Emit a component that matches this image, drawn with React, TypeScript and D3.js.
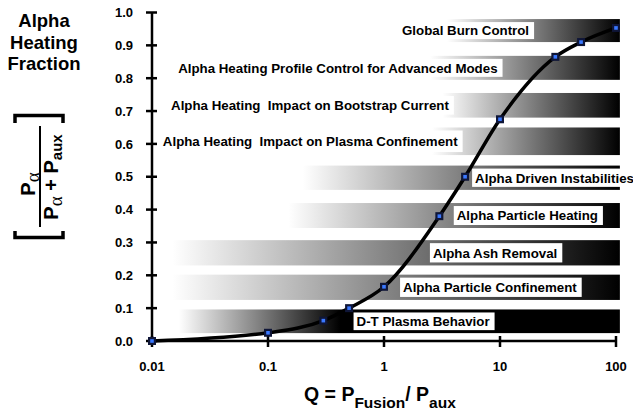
import React, { useEffect, useRef } from 'react';
import * as d3 from 'd3';

// Q = Pfusion / Paux and the alpha heating fraction at each point
const qValues = [0.01, 0.1, 0.3, 0.5, 1, 3, 5, 10, 30, 50, 100];
const fractionValues = [0, 0.025, 0.062, 0.1, 0.165, 0.38, 0.5, 0.675, 0.865, 0.91, 0.953];

// physics regimes, drawn as shaded bands
const bandLabels = [
  'Global Burn Control',
  'Alpha Heating Profile Control for Advanced Modes',
  'Alpha Heating  Impact on Bootstrap Current',
  'Alpha Heating  Impact on Plasma Confinement',
  'Alpha Driven Instabilities',
  'Alpha Particle Heating',
  'Alpha Ash Removal',
  'Alpha Particle Confinement',
  'D-T Plasma Behavior',
];
const bandLow = [0.91, 0.795, 0.68, 0.566, 0.46, 0.344, 0.23, 0.125, 0.024];
const bandHigh = [0.98, 0.868, 0.755, 0.65, 0.534, 0.42, 0.307, 0.202, 0.096];
const bandStartQ = [3.5, 2.5, 3.2, 2.6, 0.2, 0.15, 0.015, 0.015, 0.017];
const bandBlackQ = [108, 108, 108, 108, 108, 108, 108, 108, 0.42];
const bandEndQ = [108, 108, 108, 108, 108, 108, 108, 108, 108];
const labelQ = [1.43, 0.0168, 0.0146, 0.0124, 6.1, 4.24, 2.64, 1.46, 0.58];

const xTicks = [0.01, 0.1, 1, 10, 100];
const xTickLabels = ['0.01', '0.1', '1', '10', '100'];
const yTicks = [0, 0.1, 0.2, 0.3, 0.4, 0.5, 0.6, 0.7, 0.8, 0.9, 1.0];
const yTickLabels = ['0.0', '0.1', '0.2', '0.3', '0.4', '0.5', '0.6', '0.7', '0.8', '0.9', '1.0'];

const FONT = '"Liberation Sans", Arial, sans-serif';

const App = () => {
  const svgRef = useRef<SVGSVGElement>(null);

  useEffect(() => {
    document.body.style.margin = '0';
    const width = 633;
    const height = 414;

    const svg = d3.select(svgRef.current)
      .attr('width', width)
      .attr('height', height)
      .style('display', 'block')
      .style('background', '#fff');
    svg.selectAll('*').remove();

    const x = d3.scaleLog().domain([0.01, 100]).range([152, 616]);
    const y = d3.scaleLinear().domain([0, 1]).range([341, 12.5]);

    const defs = svg.append('defs');

    // bands
    bandLabels.forEach((label, i) => {
      const id = `band-grad-${i}`;
      const g = defs.append('linearGradient')
        .attr('id', id)
        .attr('gradientUnits', 'userSpaceOnUse')
        .attr('x1', x(bandStartQ[i]))
        .attr('x2', x(bandBlackQ[i]))
        .attr('y1', 0)
        .attr('y2', 0);
      g.append('stop').attr('offset', 0).attr('stop-color', '#fff');
      g.append('stop').attr('offset', 1).attr('stop-color', '#000');

      svg.append('rect')
        .attr('x', x(bandStartQ[i]))
        .attr('y', y(bandHigh[i]))
        .attr('width', x(bandEndQ[i]) - x(bandStartQ[i]))
        .attr('height', y(bandLow[i]) - y(bandHigh[i]))
        .attr('fill', `url(#${id})`);
    });

    // band labels on white boxes
    bandLabels.forEach((label, i) => {
      const top = y(bandHigh[i]);
      const bottom = y(bandLow[i]);
      const box = svg.append('rect').attr('fill', '#fff');
      const text = svg.append('text')
        .attr('x', x(labelQ[i]))
        .attr('y', (top + bottom) / 2)
        .attr('dy', '0.36em')
        .style('white-space', 'pre')
        .style('font-family', FONT)
        .style('font-weight', 'bold')
        .style('font-size', '13.3px')
        .attr('fill', '#000')
        .text(label);
      const len = (text.node() as SVGTextElement).getComputedTextLength();
      box.attr('x', x(labelQ[i]) - 3)
        .attr('y', top + 3)
        .attr('width', len + 8)
        .attr('height', bottom - top - 6);
    });

    // axes
    const axis = svg.append('g').attr('stroke', '#000').attr('stroke-width', 2.5);
    axis.append('line').attr('x1', x(0.01)).attr('x2', x(100)).attr('y1', y(0)).attr('y2', y(0));
    axis.append('line').attr('x1', x(0.01)).attr('x2', x(0.01)).attr('y1', y(0)).attr('y2', y(1));
    yTicks.forEach(t => {
      axis.append('line').attr('x1', x(0.01) - 6).attr('x2', x(0.01) + 5).attr('y1', y(t)).attr('y2', y(t));
    });
    xTicks.forEach(t => {
      axis.append('line').attr('x1', x(t)).attr('x2', x(t)).attr('y1', y(0) - 5).attr('y2', y(0) + 6);
    });

    svg.append('g').selectAll('text')
      .data(yTicks)
      .enter()
      .append('text')
      .attr('x', 133)
      .attr('y', d => y(d))
      .attr('dy', '0.36em')
      .attr('text-anchor', 'end')
      .style('font-family', FONT)
      .style('font-weight', 'bold')
      .style('font-size', '13px')
      .text((d, i) => yTickLabels[i]);

    svg.append('g').selectAll('text')
      .data(xTicks)
      .enter()
      .append('text')
      .attr('x', d => x(d))
      .attr('y', 371)
      .attr('text-anchor', 'middle')
      .style('font-family', FONT)
      .style('font-weight', 'bold')
      .style('font-size', '13px')
      .text((d, i) => xTickLabels[i]);

    // curve
    const points = qValues.map((q, i) => [q, fractionValues[i]] as [number, number]);
    const line = d3.line<[number, number]>()
      .x(d => x(d[0]))
      .y(d => y(d[1]))
      .curve(d3.curveMonotoneX);
    svg.append('path')
      .attr('d', line(points))
      .attr('fill', 'none')
      .attr('stroke', '#000')
      .attr('stroke-width', 3.5);

    const markers = svg.append('g').selectAll('g')
      .data(points)
      .enter()
      .append('g')
      .attr('transform', d => `translate(${x(d[0])},${y(d[1])})`);
    markers.append('rect')
      .attr('x', -4).attr('y', -4).attr('width', 8).attr('height', 8)
      .attr('fill', '#0f1638');
    markers.append('rect')
      .attr('x', -1.8).attr('y', -1.8).attr('width', 3.6).attr('height', 3.6)
      .attr('fill', '#3a78ff');

    // x axis title
    const xt = svg.append('text')
      .attr('x', 304)
      .attr('y', 401)
      .style('font-family', FONT)
      .style('font-weight', 'bold')
      .style('font-size', '19.5px');
    xt.append('tspan').text('Q = P');
    xt.append('tspan').attr('dy', 7).style('font-size', '15.5px').text('Fusion');
    xt.append('tspan').attr('dy', -7).text('/ P');
    xt.append('tspan').attr('dy', 7).style('font-size', '15.5px').text('aux');

    // y axis title
    const yt = svg.append('text')
      .attr('text-anchor', 'middle')
      .style('font-family', FONT)
      .style('font-weight', 'bold')
      .style('font-size', '18.5px');
    ['Alpha', 'Heating', 'Fraction'].forEach((w, i) => {
      yt.append('tspan').attr('x', 44).attr('y', 27 + i * 21.5).text(w);
    });

    // bracketed fraction, rotated
    svg.append('path')
      .attr('d', 'M15,123 V115.5 H63 V123 M15,231 V237.5 H63 V231')
      .attr('fill', 'none')
      .attr('stroke', '#000')
      .attr('stroke-width', 3.5);
    const frac = svg.append('g').attr('transform', 'translate(40,177) rotate(-90)');
    frac.append('line')
      .attr('x1', -50).attr('x2', 51).attr('y1', 0).attr('y2', 0)
      .attr('stroke', '#000').attr('stroke-width', 2);
    const num = frac.append('text')
      .attr('x', -7)
      .attr('y', -5)
      .attr('text-anchor', 'middle')
      .style('font-family', FONT)
      .style('font-weight', 'bold')
      .style('font-size', '20px');
    num.append('tspan').text('P');
    num.append('tspan').attr('dy', 4).style('font-family', '"Liberation Serif", serif').style('font-weight', 'normal').style('font-size', '19px').text('α');
    const den = frac.append('text')
      .attr('x', 0)
      .attr('y', 18)
      .attr('text-anchor', 'middle')
      .style('font-family', FONT)
      .style('font-weight', 'bold')
      .style('font-size', '20px');
    den.append('tspan').text('P');
    den.append('tspan').attr('dy', 4).style('font-family', '"Liberation Serif", serif').style('font-weight', 'normal').style('font-size', '19px').text('α');
    den.append('tspan').attr('dy', -4).text(' + P');
    den.append('tspan').attr('dy', 4).style('font-size', '15px').text('aux');
  }, []);

  return <svg ref={svgRef}></svg>;
};

export default App;
